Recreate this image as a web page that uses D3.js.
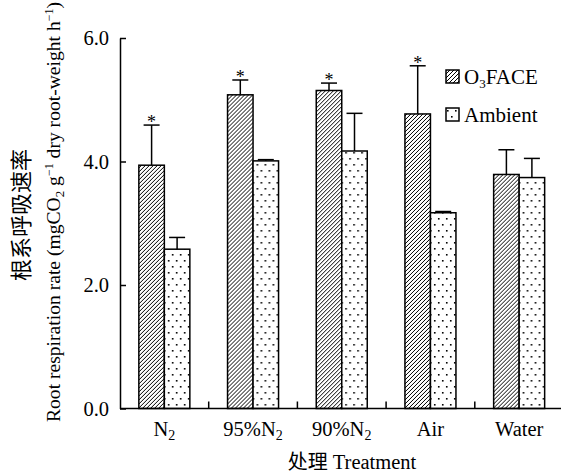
<!DOCTYPE html>
<html><head><meta charset="utf-8">
<script src="https://cdn.jsdelivr.net/npm/d3@7"></script>
<style>
body{margin:0;background:#fff;}
svg{display:block;}
text{font-family:"Liberation Serif","Times New Roman",serif;fill:#000;}
.cjk{font-family:"Noto Sans CJK SC",sans-serif;}
</style></head>
<body>
<svg id="chart" width="561" height="476"></svg>
<script>
const categories = ["N2", "95%N2", "90%N2", "Air", "Water"];
const seriesNames = ["O3FACE", "Ambient"];
const o3face = [3.94, 5.08, 5.15, 4.77, 3.79];
const o3faceErr = [0.65, 0.24, 0.12, 0.78, 0.40];
const ambient = [2.58, 4.01, 4.17, 3.17, 3.74];
const ambientErr = [0.19, 0.02, 0.61, 0.02, 0.31];
const significant = [true, true, true, true, false];
const yTicks = [0, 2, 4, 6];
const catLabels = [["N", "2", ""], ["95%N", "2", ""], ["90%N", "2", ""], ["Air", "", ""], ["Water", "", ""]];

const svg = d3.select("#chart");
const defs = svg.append("defs");
const hatch = defs.append("pattern").attr("id", "hatch").attr("patternUnits", "userSpaceOnUse")
  .attr("width", 4).attr("height", 4);
hatch.append("rect").attr("width", 4).attr("height", 4).attr("fill", "#fff");
hatch.append("path").attr("d", "M-1,1 L1,-1 M0,4 L4,0 M3,5 L5,3").attr("stroke", "#000").attr("stroke-width", 1);
const dots = defs.append("pattern").attr("id", "dots").attr("patternUnits", "userSpaceOnUse")
  .attr("width", 8).attr("height", 12);
dots.append("rect").attr("width", 8).attr("height", 12).attr("fill", "#fff");
dots.append("rect").attr("x", 1).attr("y", 2).attr("width", 1.6).attr("height", 1.6).attr("fill", "#000");
dots.append("rect").attr("x", 5).attr("y", 8).attr("width", 1.6).attr("height", 1.6).attr("fill", "#000");
const fills = ["url(#hatch)", "url(#dots)"];

const y = d3.scaleLinear().domain([0, 6]).range([408.5, 38]);
const x0 = d3.scaleBand().domain(categories).range([120, 563.5]).paddingInner(0.425).paddingOuter(0.2125);
const x1 = d3.scaleBand().domain(seriesNames).range([0, x0.bandwidth()]);

const data = categories.map((c, i) => ({
  cat: c, i,
  vals: [
    {s: "O3FACE", v: o3face[i], e: o3faceErr[i], sig: significant[i], k: 0},
    {s: "Ambient", v: ambient[i], e: ambientErr[i], sig: false, k: 1}
  ]
}));

// error bars (behind bars)
const g = svg.append("g");
const groups = g.selectAll("g.grp").data(data).join("g").attr("class", "grp")
  .attr("transform", d => `translate(${x0(d.cat)},0)`);
groups.selectAll("g.err").data(d => d.vals).join("g").attr("class", "err").each(function(d) {
  const sel = d3.select(this);
  const cx = x1(d.s) + x1.bandwidth() / 2;
  sel.append("line").attr("x1", cx).attr("x2", cx).attr("y1", y(d.v)).attr("y2", y(d.v + d.e))
    .attr("stroke", "#000").attr("stroke-width", 1.5);
  sel.append("line").attr("x1", cx - 8).attr("x2", cx + 8).attr("y1", y(d.v + d.e)).attr("y2", y(d.v + d.e))
    .attr("stroke", "#000").attr("stroke-width", 1.5);
  if (d.sig) {
    sel.append("text").attr("x", cx).attr("y", y(d.v + d.e) + 3).attr("text-anchor", "middle")
      .attr("font-size", 18).text("*");
  }
});
groups.selectAll("rect.bar").data(d => d.vals).join("rect").attr("class", "bar")
  .attr("x", d => x1(d.s)).attr("width", x1.bandwidth())
  .attr("y", d => y(d.v)).attr("height", d => y(0) - y(d.v))
  .attr("fill", d => fills[d.k]).attr("stroke", "#000").attr("stroke-width", 1.5);

// y axis
const yAxis = d3.axisLeft(y).tickValues(yTicks).tickFormat(d3.format(".1f"))
  .tickSizeInner(-6).tickSizeOuter(0).tickPadding(11);
const ya = svg.append("g").attr("transform", "translate(120,0)").call(yAxis);
ya.select(".domain").attr("stroke-width", 1.5);
ya.selectAll(".tick line").attr("stroke-width", 1.5);
ya.selectAll(".tick text").attr("font-size", 20.5).attr("font-family", "Liberation Serif");

// x axis
svg.append("line").attr("x1", 120).attr("x2", 561).attr("y1", y(0)).attr("y2", y(0))
  .attr("stroke", "#000").attr("stroke-width", 1.5);
const gap = x0.step() - x0.bandwidth();
svg.selectAll("line.sep").data(categories.slice(1)).join("line").attr("class", "sep")
  .attr("x1", d => x0(d) - gap / 2).attr("x2", d => x0(d) - gap / 2)
  .attr("y1", y(0)).attr("y2", y(0) - 7).attr("stroke", "#000").attr("stroke-width", 1.5);
const xl = svg.selectAll("text.xl").data(categories).join("text").attr("class", "xl")
  .attr("x", d => x0(d) + x0.bandwidth() / 2).attr("y", 436).attr("text-anchor", "middle").attr("font-size", 20.5);
xl.each(function(d, i) {
  const t = d3.select(this);
  const lab = catLabels[i];
  t.append("tspan").text(lab[0]);
  if (lab[1]) t.append("tspan").attr("font-size", 14).attr("dy", 4).text(lab[1]);
});

// x title
const xt = svg.append("text").attr("x", 352).attr("y", 469).attr("text-anchor", "middle").attr("font-size", 20.5);
xt.append("tspan").attr("class", "cjk").attr("font-size", 20).text("处理");
xt.append("tspan").text(" Treatment");

// y titles
svg.append("text").attr("class", "cjk").attr("transform", "translate(29,215) rotate(-90)")
  .attr("text-anchor", "middle").attr("font-size", 22).text("根系呼吸速率");
const yt = svg.append("text").attr("transform", "translate(60,212) rotate(-90)")
  .attr("text-anchor", "middle").attr("font-size", 19.6);
yt.append("tspan").text("Root respiration rate (mgCO");
yt.append("tspan").attr("font-size", 13).attr("dy", 4).text("2");
yt.append("tspan").attr("dy", -4).text(" g");
yt.append("tspan").attr("font-size", 12).attr("dy", -7).text("−1");
yt.append("tspan").attr("dy", 7).text(" dry root-weight h");
yt.append("tspan").attr("font-size", 12).attr("dy", -7).text("−1");
yt.append("tspan").attr("dy", 7).text(")");

// legend
const leg = svg.append("g");
const legItems = leg.selectAll("g").data(seriesNames).join("g")
  .attr("transform", (d, i) => `translate(446,${70 + i * 38})`);
legItems.append("rect").attr("width", 13).attr("height", 13)
  .attr("fill", (d, i) => fills[i]).attr("stroke", "#000").attr("stroke-width", 1.5);
legItems.each(function(d, i) {
  const t = d3.select(this).append("text").attr("x", 18).attr("y", 13.5).attr("font-size", 21);
  if (i === 0) {
    t.append("tspan").text("O");
    t.append("tspan").attr("font-size", 13).attr("dy", 4).text("3");
    t.append("tspan").attr("dy", -4).text("FACE");
  } else {
    t.text("Ambient");
  }
});
</script>
</body></html>
